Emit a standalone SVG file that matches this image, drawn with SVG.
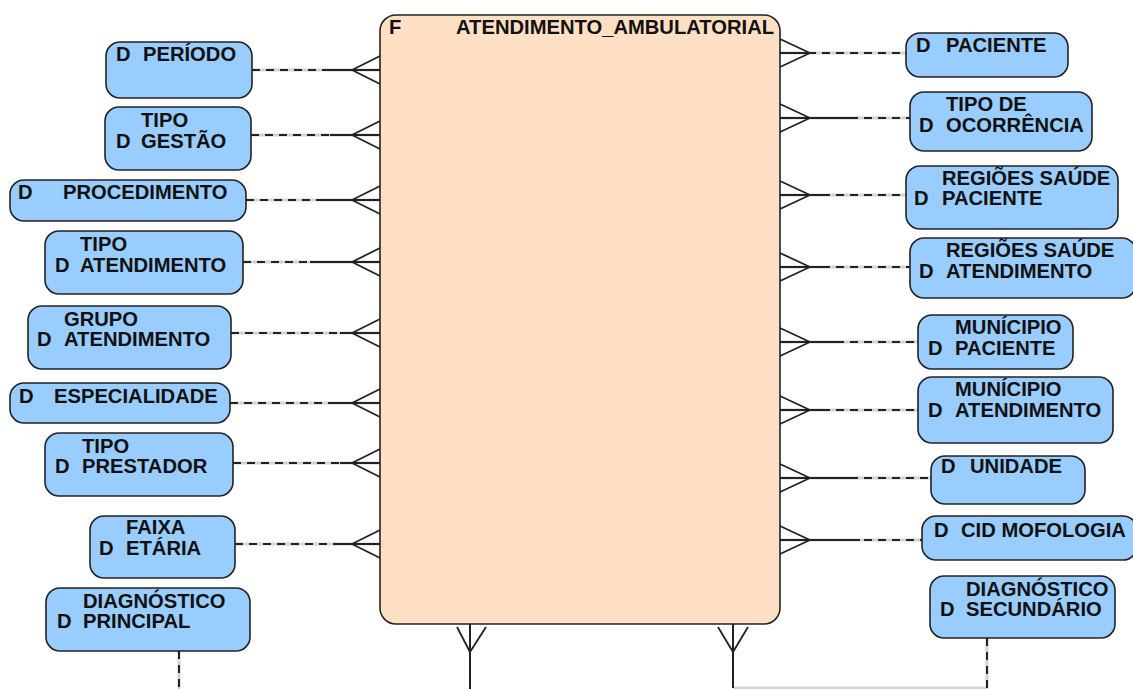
<svg xmlns="http://www.w3.org/2000/svg" width="1133" height="689" viewBox="0 0 1133 689">
<defs>
<style>
text{font-family:"Liberation Sans",Arial,sans-serif;font-weight:bold;font-size:20.2px;fill:#111}
.dim{fill:#99ccff;stroke:#222;stroke-width:1.6}
.fact{fill:#ffe0c4;stroke:#222;stroke-width:1.6}
.under{stroke:#d4d4d4;stroke-width:3;fill:none}
.dash{stroke:#222;stroke-width:2;stroke-dasharray:8 6;fill:none}
.solid{stroke:#222;stroke-width:2;fill:none}
.foot{stroke:#222;stroke-width:1.8;fill:none}
</style>
</defs>
<rect width="1133" height="689" fill="#fff"/>

<g id="connectors">
<g>
<path class="under" d="M252 70H380M251 135H380M246 200H380M243 262H380M231 333H380M230 403H380M233 463H380M235 544H380"/>
<path class="dash" d="M252 70H352M251 135H352M246 200H352M243 262H352M231 333H352M230 403H352M233 463H352M235 544H352"/>
<path class="solid" d="M330 70H380M330 135H380M320 200H380M310 262H380M340 333H380M330 403H380M340 463H380M340 544H380"/>
<path class="foot" d="M352 70L380 56M352 70L380 84M352 135L380 121M352 135L380 149M352 200L380 186M352 200L380 214M352 262L380 248M352 262L380 276M352 333L380 319M352 333L380 347M352 403L380 389M352 403L380 417M352 463L380 449M352 463L380 477M352 544L380 530M352 544L380 558"/>
</g>
<g>
<path class="under" d="M780 53H906M780 118H910M780 195H906M780 267H910M780 342H918M780 410H918M780 478H931M780 540H922"/>
<path class="dash" d="M808 53H906M808 118H910M808 195H906M808 267H910M808 342H918M808 410H918M808 478H931M808 540H922"/>
<path class="solid" d="M780 53H815M780 118H850M780 195H830M780 267H830M780 342H840M780 410H830M780 478H855M780 540H860"/>
<path class="foot" d="M810 53L780 39M810 53L780 67M810 118L780 104M810 118L780 132M810 195L780 181M810 195L780 209M810 267L780 253M810 267L780 281M810 342L780 328M810 342L780 356M810 410L780 396M810 410L780 424M810 478L780 464M810 478L780 492M810 540L780 526M810 540L780 554"/>
</g>
<g>
<path class="under" d="M179 651V689M987 638V688H733"/>
<path class="dash" d="M179 651V689M987 638V688"/>
<path class="solid" d="M470 624V689M733 624V688"/>
<path class="foot" d="M470 652L457 627M470 652L486 627M733 652L718 627M733 652L748 627"/>
</g>
</g>

<g id="fact">
<rect class="fact" x="380" y="15" width="400" height="609" rx="16"/>
<text x="389" y="34">F</text>
<text x="456" y="34">ATENDIMENTO_AMBULATORIAL</text>
</g>

<g id="d-periodo"><rect class="dim" x="106" y="42" width="146" height="56" rx="14"/><text x="116" y="61">D</text><text x="143" y="61">PERÍODO</text></g>
<g id="d-tipo-gestao"><rect class="dim" x="105" y="107" width="146" height="63" rx="14"/><text x="141" y="127">TIPO</text><text x="116" y="148">D</text><text x="141" y="148">GESTÃO</text></g>
<g id="d-procedimento"><rect class="dim" x="10" y="180" width="236" height="41" rx="14"/><text x="18" y="199">D</text><text x="63" y="199">PROCEDIMENTO</text></g>
<g id="d-tipo-atendimento"><rect class="dim" x="45" y="231" width="198" height="63" rx="14"/><text x="80" y="251">TIPO</text><text x="55" y="272">D</text><text x="80" y="272">ATENDIMENTO</text></g>
<g id="d-grupo-atendimento"><rect class="dim" x="28" y="306" width="203" height="63" rx="14"/><text x="64" y="326">GRUPO</text><text x="37" y="346">D</text><text x="64" y="346">ATENDIMENTO</text></g>
<g id="d-especialidade"><rect class="dim" x="10" y="383" width="220" height="40" rx="14"/><text x="19" y="403">D</text><text x="54" y="403">ESPECIALIDADE</text></g>
<g id="d-tipo-prestador"><rect class="dim" x="45" y="433" width="188" height="63" rx="14"/><text x="82" y="453">TIPO</text><text x="55" y="473">D</text><text x="82" y="473">PRESTADOR</text></g>
<g id="d-faixa-etaria"><rect class="dim" x="90" y="516" width="145" height="62" rx="14"/><text x="126" y="534">FAIXA</text><text x="99" y="555">D</text><text x="126" y="555">ETÁRIA</text></g>
<g id="d-diag-principal"><rect class="dim" x="46" y="588" width="204" height="63" rx="14"/><text x="83" y="608">DIAGNÓSTICO</text><text x="57" y="628">D</text><text x="83" y="628">PRINCIPAL</text></g>

<g id="d-paciente"><rect class="dim" x="906" y="33" width="162" height="44" rx="14"/><text x="916" y="52">D</text><text x="946" y="52">PACIENTE</text></g>
<g id="d-tipo-ocorrencia"><rect class="dim" x="910" y="92" width="182" height="59" rx="14"/><text x="946" y="111">TIPO DE</text><text x="919" y="132">D</text><text x="946" y="132">OCORRÊNCIA</text></g>
<g id="d-regioes-paciente"><rect class="dim" x="906" y="166" width="212" height="63" rx="14"/><text x="942" y="185">REGIÕES SAÚDE</text><text x="914" y="205">D</text><text x="942" y="205">PACIENTE</text></g>
<g id="d-regioes-atendimento"><rect class="dim" x="910" y="238" width="226" height="60" rx="14"/><text x="946" y="257">REGIÕES SAÚDE</text><text x="919" y="278">D</text><text x="946" y="278">ATENDIMENTO</text></g>
<g id="d-municipio-paciente"><rect class="dim" x="918" y="315" width="155" height="54" rx="14"/><text x="955" y="334">MUNÍCIPIO</text><text x="928" y="355">D</text><text x="955" y="355">PACIENTE</text></g>
<g id="d-municipio-atendimento"><rect class="dim" x="918" y="377" width="195" height="66" rx="14"/><text x="955" y="396">MUNÍCIPIO</text><text x="928" y="417">D</text><text x="955" y="417">ATENDIMENTO</text></g>
<g id="d-unidade"><rect class="dim" x="931" y="456" width="154" height="48" rx="14"/><text x="941" y="473">D</text><text x="970" y="473">UNIDADE</text></g>
<g id="d-cid-mofologia"><rect class="dim" x="922" y="516" width="215" height="44" rx="14"/><text x="934" y="537">D</text><text x="961" y="537">CID MOFOLOGIA</text></g>
<g id="d-diag-secundario"><rect class="dim" x="930" y="576" width="185" height="62" rx="14"/><text x="966" y="596">DIAGNÓSTICO</text><text x="940" y="616">D</text><text x="966" y="616">SECUNDÁRIO</text></g>
</svg>
